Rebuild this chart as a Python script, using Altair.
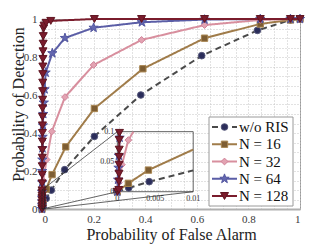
import math
import altair as alt
import pandas as pd

# ---------------- data ----------------
series = ["w/o RIS", "N = 16", "N = 32", "N = 64", "N = 128"]

pfa_wo = [0, 0.0015, 0.0042, 0.016, 0.036, 0.088, 0.203, 0.383, 0.619, 0.835, 0.963, 1.0]
pd_wo = [0, 0.0062, 0.0167, 0.055, 0.099, 0.207, 0.382, 0.600, 0.807, 0.940, 0.995, 1.0]

pfa_16 = [0, 0.00145, 0.0041, 0.016, 0.039, 0.092, 0.203, 0.391, 0.630, 0.846, 0.963, 1.0]
pd_16 = [0, 0.014, 0.036, 0.105, 0.181, 0.327, 0.529, 0.738, 0.899, 0.974, 0.995, 1.0]

pfa_32 = [0, 0.0002, 0.0006, 0.00145, 0.0045, 0.018, 0.038, 0.089, 0.200, 0.386, 0.630, 0.846, 0.963, 1.0]
pd_32 = [0, 0.015, 0.045, 0.086, 0.150, 0.260, 0.408, 0.589, 0.758, 0.890, 0.968, 0.995, 1.0, 1.0]

pfa_64 = [0, 0.0001, 0.00015, 0.0002, 0.0003, 0.0005, 0.0008, 0.0012, 0.0018, 0.0025, 0.0035,
          0.005, 0.007, 0.010, 0.014, 0.040, 0.089, 0.200, 0.387, 0.630, 0.846, 0.963, 1.0]
pd_64 = [0, 0.02, 0.04, 0.06, 0.09, 0.14, 0.20, 0.26, 0.32, 0.38, 0.44,
         0.50, 0.56, 0.63, 0.718, 0.82, 0.90, 0.954, 0.983, 0.997, 1.0, 1.0, 1.0]

pfa_128 = [0, 0.0002, 0.00021, 0.00022, 0.00023, 0.00024, 0.00025, 0.00026, 0.00028,
           0.0004, 0.0006, 0.0008, 0.001, 0.0012, 0.0014, 0.0016, 0.0018, 0.002, 0.0022,
           0.0024, 0.0026, 0.0028, 0.003, 0.0033, 0.0036, 0.004, 0.0045, 0.005, 0.006,
           0.008, 0.016, 0.034, 0.203, 0.386, 0.630, 0.846, 0.963, 1.0]
pd_128 = [0, 0.003, 0.017, 0.030, 0.045, 0.058, 0.070, 0.086, 0.098,
          0.135, 0.18, 0.225, 0.27, 0.31, 0.355, 0.40, 0.44, 0.485, 0.53,
          0.575, 0.62, 0.665, 0.71, 0.75, 0.79, 0.83, 0.87, 0.91, 0.95,
          0.965, 0.98, 0.99, 1.0, 1.0, 1.0, 1.0, 1.0, 1.0]

ticks_main = [round(i * 0.05, 2) for i in range(21)]
zoom_x = [0, 0.01]
zoom_y = [0, 0.1]
inset_xticks = [0, 0.005, 0.01]
inset_xlabels = ["0", "0.005", "0.01"]
inset_yticks = [0, 0.05, 0.1]
inset_ylabels = ["0", "0.05", "0.1"]

# ---------------- styles / layout ----------------
W, H = 258, 190
FONT = "Liberation Serif"
IX0, IX1, IY0, IY1 = 0.292, 0.586, 0.091, 0.407   # inset placement (main-axis coordinates)

def star_path(r_in=0.4):
    pts = []
    for k in range(10):
        a = math.radians(-90 + 36 * k)
        r = 1.0 if k % 2 == 0 else r_in
        pts.append(f"{r * math.cos(a):.3f},{r * math.sin(a):.3f}")
    return "M" + "L".join(pts) + "Z"

style = {
    "w/o RIS": dict(line="#4a4a4a", dash=[6, 4], shape="circle", fill="#2b2d5a", stroke="#55577a", size=44),
    "N = 16": dict(line="#a07c4a", dash=[1, 0], shape="square", fill="#7d5d33", stroke="#a88550", size=40),
    "N = 32": dict(line="#d88f9e", dash=[1, 0], shape="diamond", fill="#e3a3b2", stroke="#d0849a", size=46),
    "N = 64": dict(line="#5b5ea6", dash=[1, 0], shape=star_path(), fill="#6467b0", stroke="#5357a0", size=95),
    "N = 128": dict(line="#7a1c2c", dash=[1, 0], shape="triangle-down", fill="#7a1c2c", stroke="#5e1420", size=64),
}

raw = {
    "w/o RIS": (pfa_wo, pd_wo),
    "N = 16": (pfa_16, pd_16),
    "N = 32": (pfa_32, pd_32),
    "N = 64": (pfa_64, pd_64),
    "N = 128": (pfa_128, pd_128),
}

def frame(name):
    xs, ys = raw[name]
    return pd.DataFrame({"series": name, "k": list(range(len(xs))), "pfa": xs, "pd": ys})

def clip(x0, y0, x1, y1, xmin, xmax, ymin, ymax):
    dx, dy = x1 - x0, y1 - y0
    t0, t1 = 0.0, 1.0
    for p, q in ((-dx, x0 - xmin), (dx, xmax - x0), (-dy, y0 - ymin), (dy, ymax - y0)):
        if p == 0:
            if q < 0:
                return None
        else:
            r = q / p
            if p < 0:
                t0 = max(t0, r)
            else:
                t1 = min(t1, r)
    if t0 > t1:
        return None
    return (x0 + t0 * dx, y0 + t0 * dy, x0 + t1 * dx, y0 + t1 * dy)

def inset_frames(name):
    xs, ys = raw[name]
    rows = []
    for i in range(len(xs) - 1):
        c = clip(xs[i], ys[i], xs[i + 1], ys[i + 1], zoom_x[0], zoom_x[1], zoom_y[0], zoom_y[1])
        if c is not None:
            rows.append({"seg": i, "k": 0, "pfa": c[0], "pd": c[1]})
            rows.append({"seg": i, "k": 1, "pfa": c[2], "pd": c[3]})
    segs = pd.DataFrame(rows)
    pts = pd.DataFrame({"pfa": xs, "pd": ys})
    pts = pts[(pts.pfa <= zoom_x[1]) & (pts.pd <= zoom_y[1])]
    return segs, pts

# inset mapping: zoom window -> inset box (expressed on the main axes)
SXI = (IX1 - IX0) / (zoom_x[1] - zoom_x[0])
SYI = (IY1 - IY0) / (zoom_y[1] - zoom_y[0])
def to_inset(ch):
    return ch.transform_calculate(
        ix=f"{IX0} + (datum.pfa - {zoom_x[0]}) * {SXI}",
        iy=f"{IY0} + (datum.pd - {zoom_y[0]}) * {SYI}",
    )

# ---------------- shared axes ----------------
label_expr = "abs(datum.value*5 - round(datum.value*5)) < 0.000001 ? '' + datum.value : ''"
common_axis = dict(values=ticks_main, labelExpr=label_expr, grid=True, gridDash=[1, 2],
                   gridColor="#c4c4c4", ticks=False, domainColor="#b0b0b0", domainWidth=2,
                   labelFont=FONT, labelFontSize=11, labelColor="#3a3a3a", labelOverlap=False,
                   titleFont=FONT, titleFontWeight="normal", titleColor="#222222")
AX = alt.Axis(title="Probability of False Alarm", labelPadding=4, titleFontSize=16,
              titleBaseline="alphabetic", titleY=30, **common_axis)
AY = alt.Axis(title="Probability of Detection", labelPadding=5, titleFontSize=16,
              titleBaseline="alphabetic", titleX=-19, titleY=85, **common_axis)
SX = alt.Scale(domain=[0, 1], nice=False)
SY = alt.Scale(domain=[0, 1], nice=False)

def X(f):
    return alt.X(f, type="quantitative", scale=SX, axis=AX)

def Y(f):
    return alt.Y(f, type="quantitative", scale=SY, axis=AY)

layers = []

# main curves
for name in series:
    s = style[name]
    df = frame(name)
    layers.append(alt.Chart(df).mark_line(color=s["line"], strokeWidth=2, strokeDash=s["dash"])
                  .encode(x=X("pfa"), y=Y("pd"), order="k:Q"))
    layers.append(alt.Chart(df).mark_point(shape=s["shape"], filled=True, fill=s["fill"],
                                           stroke=s["stroke"], strokeWidth=1, size=s["size"], opacity=1)
                  .encode(x=X("pfa"), y=Y("pd")))

# inset box
box_df = pd.DataFrame({"pfa": [zoom_x[0]], "pd": [zoom_y[0]], "pfa2": [zoom_x[1]], "pd2": [zoom_y[1]]})
layers.append(to_inset(alt.Chart(box_df))
              .transform_calculate(ix2=f"{IX0} + (datum.pfa2 - {zoom_x[0]}) * {SXI}",
                                   iy2=f"{IY0} + (datum.pd2 - {zoom_y[0]}) * {SYI}")
              .mark_rect(fill="white", fillOpacity=0, stroke="#3a3a3a", strokeWidth=0.8)
              .encode(x=X("ix"), x2="ix2:Q", y=Y("iy"), y2="iy2:Q"))

# inset curves
for name in series:
    s = style[name]
    segs, pts = inset_frames(name)
    if len(segs):
        layers.append(to_inset(alt.Chart(segs))
                      .mark_line(color=s["line"], strokeWidth=2, strokeDash=s["dash"])
                      .encode(x=X("ix"), y=Y("iy"), detail="seg:N", order="k:Q"))
    if len(pts):
        layers.append(to_inset(alt.Chart(pts))
                      .mark_point(shape=s["shape"], filled=True, fill=s["fill"], stroke=s["stroke"],
                                  strokeWidth=1, size=s["size"], opacity=1)
                      .encode(x=X("ix"), y=Y("iy")))

# inset tick labels
xt = pd.DataFrame({"pfa": inset_xticks, "pd": [zoom_y[0]] * len(inset_xticks), "lab": inset_xlabels})
yt = pd.DataFrame({"pfa": [zoom_x[0]] * len(inset_yticks), "pd": inset_yticks, "lab": inset_ylabels})
layers.append(to_inset(alt.Chart(xt)).mark_text(font=FONT, fontSize=8, color="#333333", baseline="top", dy=3)
              .encode(x=X("ix"), y=Y("iy"), text="lab:N"))
layers.append(to_inset(alt.Chart(yt)).mark_text(font=FONT, fontSize=8, color="#333333", align="right",
                                                 baseline="middle", dx=-3)
              .encode(x=X("ix"), y=Y("iy"), text="lab:N"))

# connector lines from the zoom window to the inset
conn_df = pd.DataFrame({
    "x0": [zoom_x[0], zoom_x[0], zoom_x[1]],
    "y0": [zoom_y[1], zoom_y[0], zoom_y[0]],
    "x1": [IX0, IX0, IX1],
    "y1": [IY1, IY0, IY0],
})
rect_df = pd.DataFrame({"x0": [zoom_x[0]], "x1": [zoom_x[1]], "y0": [zoom_y[0]], "y1": [zoom_y[1]]})
layers.append(alt.Chart(conn_df).mark_rule(color="#222222", strokeWidth=0.7)
              .encode(x=X("x0"), y=Y("y0"), x2="x1:Q", y2="y1:Q"))
layers.append(alt.Chart(rect_df).mark_rect(fillOpacity=0, stroke="#222222", strokeWidth=0.7)
              .encode(x=X("x0"), y=Y("y0"), x2="x1:Q", y2="y1:Q"))

# legend (drawn manually)
LX0, LX1, LY0, LY1 = 167, 251, 98, 187
ROW0, ROWSTEP = 108, 17.25
SX0, SX1, SXM, TX = 170, 195, 182.5, 197
one = pd.DataFrame({"a": [0]})
layers.append(alt.Chart(one).mark_rect(fill="white", stroke="#9a9a9a", strokeWidth=1)
              .encode(x=alt.value(LX0), x2=alt.value(LX1), y=alt.value(LY0), y2=alt.value(LY1)))
for i, name in enumerate(series):
    s = style[name]
    ry = ROW0 + i * ROWSTEP
    d = pd.DataFrame({"series": [name]})
    layers.append(alt.Chart(d).mark_rule(color=s["line"], strokeWidth=2, strokeDash=s["dash"])
                  .encode(x=alt.value(SX0), x2=alt.value(SX1), y=alt.value(ry)))
    layers.append(alt.Chart(d).mark_point(shape=s["shape"], filled=True, fill=s["fill"], stroke=s["stroke"],
                                          strokeWidth=1, size=s["size"], opacity=1)
                  .encode(x=alt.value(SXM), y=alt.value(ry)))
    layers.append(alt.Chart(d).mark_text(font=FONT, fontSize=15, color="#111111", align="left", baseline="middle")
                  .encode(x=alt.value(TX), y=alt.value(ry), text="series:N"))

chart = (alt.layer(*layers)
         .properties(width=W, height=H, autosize=alt.AutoSizeParams(type="none"),
                     padding={"left": 34, "top": 11, "right": 9, "bottom": 36},
                     background="white")
         .configure_view(stroke="#9a9a9a", strokeWidth=1))

chart.save("out.html", embed_options={"renderer": "svg", "actions": False})
